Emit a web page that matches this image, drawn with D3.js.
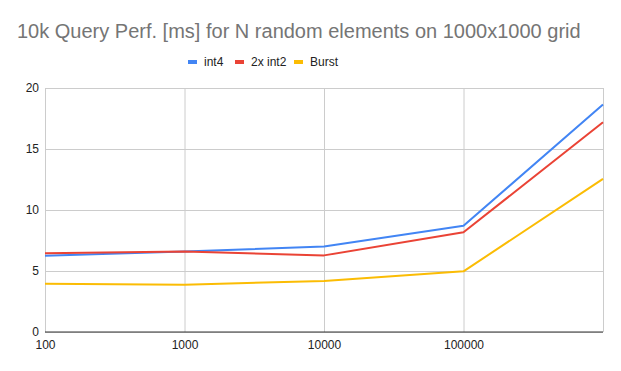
<!DOCTYPE html>
<html>
<head>
<meta charset="utf-8">
<script src="https://cdn.jsdelivr.net/npm/d3@7"></script>
<style>
  body { margin: 0; background: #fff; }
  svg { display: block; font-family: Arial, "Liberation Sans", sans-serif; }
</style>
</head>
<body>
<svg width="621" height="371"></svg>
<script>
let nValues = [100, 1000, 10000, 100000, 1000000];
let xTickLabels = [100, 1000, 10000, 100000];
let yTicks = [0, 5, 10, 15, 20];
let seriesNames = ['int4', '2x int2', 'Burst'];
let seriesColors = ['#4285f4', '#ea4335', '#fbbc04'];
let int4 = [6.25, 6.6, 7.0, 8.7, 18.65];
let int2x2 = [6.45, 6.6, 6.28, 8.17, 17.2];
let burst = [3.96, 3.88, 4.18, 4.97, 12.55];
let allSeries = [int4, int2x2, burst];

let w = 621;
let h = 371;
let padLeft = 45, padRight = 603, padTop = 88, padBottom = 332;
let svg = d3.select('svg');

let xScale = d3.scaleLog()
    .domain([100, 1000000])
    .range([padLeft, padRight]);

let yScale = d3.scaleLinear()
    .domain([0, 20])
    .range([padBottom, padTop]);

// title
svg.append('text')
    .attr('x', 17)
    .attr('y', 38)
    .attr('fill', '#757575')
    .style('font-size', '20px')
    .text('10k Query Perf. [ms] for N random elements on 1000x1000 grid');

// legend
let legendX = [188, 235, 294];
let legend = svg.append('g');
seriesNames.forEach((name, i) => {
    legend.append('rect')
        .attr('x', legendX[i])
        .attr('y', 60)
        .attr('width', 9)
        .attr('height', 4)
        .attr('fill', seriesColors[i]);
    legend.append('text')
        .attr('x', legendX[i] + 16)
        .attr('y', 66)
        .attr('fill', '#222')
        .style('font-size', '12px')
        .text(name);
});

// gridlines
let xGrid = d3.axisBottom(xScale)
    .tickValues(nValues)
    .tickSize(-(padBottom - padTop))
    .tickFormat('');
svg.append('g')
    .attr('transform', 'translate(0,' + padBottom + ')')
    .call(xGrid)
    .call(g => g.select('.domain').remove())
    .call(g => g.selectAll('line').attr('stroke', '#cccccc'));

let yGrid = d3.axisLeft(yScale)
    .tickValues(yTicks)
    .tickSize(-(padRight - padLeft))
    .tickFormat('');
svg.append('g')
    .attr('transform', 'translate(' + padLeft + ',0)')
    .call(yGrid)
    .call(g => g.select('.domain').remove())
    .call(g => g.selectAll('line').attr('stroke', '#cccccc'));

// axes labels
let xAxis = d3.axisBottom(xScale)
    .tickValues(xTickLabels)
    .tickSize(0)
    .tickPadding(8)
    .tickFormat(d3.format('d'));
svg.append('g')
    .attr('transform', 'translate(0,' + padBottom + ')')
    .call(xAxis)
    .call(g => g.select('.domain').remove())
    .call(g => g.selectAll('text').attr('fill', '#222').style('font-size', '12px').style('font-family', 'Arial'));

let yAxis = d3.axisLeft(yScale)
    .tickValues(yTicks)
    .tickSize(0)
    .tickPadding(6);
svg.append('g')
    .attr('transform', 'translate(' + padLeft + ',0)')
    .call(yAxis)
    .call(g => g.select('.domain').remove())
    .call(g => g.selectAll('text').attr('fill', '#222').style('font-size', '12px').style('font-family', 'Arial'));

// baseline
svg.append('line')
    .attr('x1', padLeft)
    .attr('x2', padRight)
    .attr('y1', yScale(0))
    .attr('y2', yScale(0))
    .attr('stroke', '#333')
    .attr('stroke-width', 1);

// lines
let line = d3.line()
    .x((d, i) => xScale(nValues[i]))
    .y(d => yScale(d));

allSeries.forEach((s, i) => {
    svg.append('path')
        .datum(s)
        .attr('d', line)
        .attr('fill', 'none')
        .attr('stroke', seriesColors[i])
        .attr('stroke-width', 2)
        .attr('stroke-linejoin', 'round');
});
</script>
</body>
</html>
